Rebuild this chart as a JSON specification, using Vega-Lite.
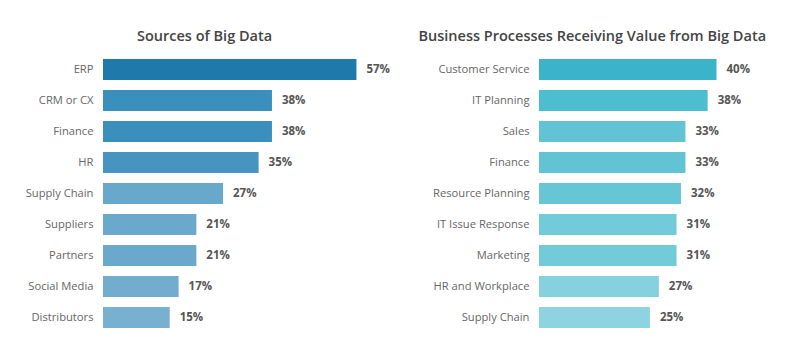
{
  "$schema": "https://vega.github.io/schema/vega-lite/v6.json",
  "background": "white",
  "padding": {"left": 25, "top": 28, "right": 5, "bottom": 5},
  "spacing": 26,
  "config": {
    "view": {"stroke": null},
    "font": "Open Sans",
    "title": {"font": "Open Sans", "fontSize": 14.5, "fontWeight": 600, "color": "#444444", "anchor": "middle", "frame": "bounds", "offset": 10},
    "axis": {"domain": false, "ticks": false, "grid": false, "title": null, "labelFont": "Open Sans", "labelFontSize": 11.2, "labelColor": "#666666", "labelPadding": 10}
  },
  "datasets": {
    "sources": [
      {"category": "ERP", "share": 0.57},
      {"category": "CRM or CX", "share": 0.38},
      {"category": "Finance", "share": 0.38},
      {"category": "HR", "share": 0.35},
      {"category": "Supply Chain", "share": 0.27},
      {"category": "Suppliers", "share": 0.21},
      {"category": "Partners", "share": 0.21},
      {"category": "Social Media", "share": 0.17},
      {"category": "Distributors", "share": 0.15}
    ],
    "processes": [
      {"category": "Customer Service", "share": 0.40},
      {"category": "IT Planning", "share": 0.38},
      {"category": "Sales", "share": 0.33},
      {"category": "Finance", "share": 0.33},
      {"category": "Resource Planning", "share": 0.32},
      {"category": "IT Issue Response", "share": 0.31},
      {"category": "Marketing", "share": 0.31},
      {"category": "HR and Workplace", "share": 0.27},
      {"category": "Supply Chain", "share": 0.25}
    ]
  },
  "hconcat": [
    {
      "title": {"text": "Sources of Big Data", "dx": -4},
      "data": {"name": "sources"},
      "width": 289,
      "height": 279,
      "encoding": {
        "y": {"field": "category", "type": "nominal",
          "sort": ["ERP", "CRM or CX", "Finance", "HR", "Supply Chain", "Suppliers", "Partners", "Social Media", "Distributors"],
          "scale": {"paddingInner": 0.33, "paddingOuter": 0.165}},
        "x": {"field": "share", "type": "quantitative", "scale": {"domain": [0, 0.65]}, "axis": null}
      },
      "layer": [
        {"mark": {"type": "bar"},
         "encoding": {"color": {"field": "category", "type": "nominal", "legend": null,
           "scale": {"domain": ["ERP", "CRM or CX", "Finance", "HR", "Supply Chain", "Suppliers", "Partners", "Social Media", "Distributors"],
                     "range": ["#2079ab", "#3a8fbd", "#3a8fbd", "#4894c0", "#68a8cb", "#6aa9cc", "#6aa9cc", "#72adcf", "#78b0d0"]}}}},
        {"mark": {"type": "text", "align": "left", "dx": 10, "font": "Open Sans", "fontSize": 11.5, "fontWeight": "bold", "color": "#555555"},
         "encoding": {"text": {"field": "share", "type": "quantitative", "format": ".0%"}}}
      ]
    },
    {
      "title": "Business Processes Receiving Value from Big Data",
      "data": {"name": "processes"},
      "width": 213,
      "height": 279,
      "encoding": {
        "y": {"field": "category", "type": "nominal",
          "sort": ["Customer Service", "IT Planning", "Sales", "Finance", "Resource Planning", "IT Issue Response", "Marketing", "HR and Workplace", "Supply Chain"],
          "scale": {"paddingInner": 0.33, "paddingOuter": 0.165}},
        "x": {"field": "share", "type": "quantitative", "scale": {"domain": [0, 0.48]}, "axis": null}
      },
      "layer": [
        {"mark": {"type": "bar"},
         "encoding": {"color": {"field": "category", "type": "nominal", "legend": null,
           "scale": {"domain": ["Customer Service", "IT Planning", "Sales", "Finance", "Resource Planning", "IT Issue Response", "Marketing", "HR and Workplace", "Supply Chain"],
                     "range": ["#3bb4c9", "#4dbdd0", "#62c3d4", "#62c3d4", "#66c6d6", "#72cbd9", "#72cbd9", "#86d1de", "#8dd4e0"]}}}},
        {"mark": {"type": "text", "align": "left", "dx": 10, "font": "Open Sans", "fontSize": 11.5, "fontWeight": "bold", "color": "#555555"},
         "encoding": {"text": {"field": "share", "type": "quantitative", "format": ".0%"}}}
      ]
    }
  ],
  "resolve": {"scale": {"color": "independent", "y": "independent"}}
}
